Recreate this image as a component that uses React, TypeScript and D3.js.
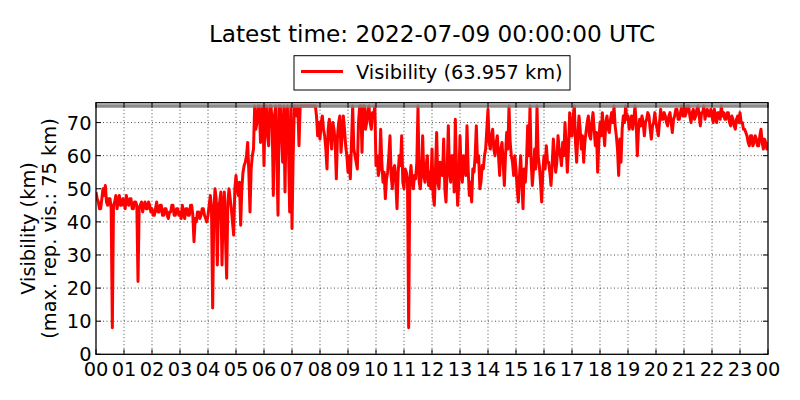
import * as d3 from "d3";

// visibility in km, one value every 2.5 minutes from 00:00 to 24:00 UTC
const visibility: number[] = [
  // 00
  49, 47, 46, 44, 44, 47, 50, 48, 51, 46, 45, 47, 47, 44, 8, 45, 46, 48, 44, 46, 48, 45, 45, 47,
  // 01
  46, 44, 48, 46, 45, 47, 47, 44, 44, 46, 46, 45, 22, 44, 45, 46, 43, 45, 46, 44, 44, 46, 45, 43,
  // 02
  44, 42, 42, 44, 46, 43, 43, 45, 45, 42, 42, 44, 44, 42, 41, 43, 43, 45, 45, 42, 42, 44, 44, 42,
  // 03
  43, 41, 45, 43, 41, 44, 44, 42, 42, 45, 45, 42, 34, 41, 40, 43, 43, 41, 42, 44, 44, 42, 41, 40,
  // 04
  42, 45, 48, 44, 14, 43, 50, 47, 27, 45, 46, 49, 27, 44, 49, 35, 23, 46, 50, 47, 44, 40, 36, 50,
  // 05
  54, 50, 48, 52, 39, 50, 55, 57, 58, 60, 64, 55, 43, 56, 60, 62, 75, 68, 70, 75, 75, 64, 72, 75,
  // 06
  57, 75, 75, 66, 63, 75, 75, 70, 48, 72, 75, 60, 42, 75, 75, 66, 58, 75, 49, 72, 75, 62, 43, 75,
  // 07
  38, 60, 75, 75, 72, 75, 63, 75, 75, 75, 75, 75, 75, 75, 75, 75, 75, 75, 75, 75, 75, 72, 66, 70,
  // 08
  65, 70, 72, 68, 66, 62, 56, 68, 71, 66, 62, 70, 68, 64, 53, 66, 70, 72, 61, 66, 72, 68, 63, 60,
  // 09
  55, 60, 53, 64, 75, 62, 60, 58, 56, 70, 75, 75, 61, 75, 75, 68, 70, 74, 75, 70, 68, 73, 72, 75,
  // 10
  57, 60, 54, 56, 68, 58, 52, 55, 47, 53, 55, 60, 66, 54, 50, 56, 57, 52, 44, 55, 60, 57, 66, 52,
  // 11
  50, 56, 55, 52, 8, 53, 57, 52, 50, 54, 53, 58, 75, 52, 50, 55, 66, 54, 52, 57, 60, 51, 55, 50,
  // 12
  62, 48, 45, 56, 67, 52, 50, 58, 57, 54, 65, 50, 46, 56, 69, 55, 52, 60, 60, 49, 71, 55, 45, 52,
  // 13
  66, 55, 52, 60, 58, 54, 69, 56, 48, 52, 46, 56, 55, 60, 69, 58, 60, 50, 52, 57, 56, 60, 62, 68,
  // 14
  74, 64, 62, 66, 68, 62, 60, 64, 66, 60, 54, 62, 64, 58, 51, 60, 67, 62, 75, 64, 60, 58, 54, 60,
  // 15
  56, 50, 46, 54, 60, 52, 44, 56, 52, 58, 69, 60, 75, 58, 51, 56, 62, 56, 75, 60, 57, 52, 46, 55,
  // 16
  60, 56, 63, 58, 58, 55, 51, 57, 65, 60, 55, 58, 66, 62, 60, 57, 64, 60, 70, 63, 55, 62, 73, 66,
  // 17
  66, 72, 75, 64, 58, 66, 72, 68, 62, 66, 58, 64, 67, 70, 72, 66, 65, 70, 73, 68, 63, 67, 55, 64,
  // 18
  70, 66, 73, 68, 63, 70, 72, 68, 67, 71, 73, 70, 75, 69, 66, 62, 54, 65, 58, 68, 72, 70, 75, 71,
  // 19
  72, 68, 70, 72, 68, 71, 75, 70, 60, 68, 71, 69, 72, 70, 66, 70, 71, 73, 72, 68, 65, 69, 70, 73,
  // 20
  70, 68, 66, 70, 74, 71, 71, 73, 72, 70, 69, 72, 73, 70, 67, 71, 72, 74, 74, 71, 71, 73, 75, 72,
  // 21
  75, 72, 73, 75, 75, 72, 70, 73, 74, 71, 72, 74, 75, 72, 69, 73, 73, 75, 71, 73, 74, 72, 72, 74,
  // 22
  72, 70, 74, 72, 70, 73, 73, 71, 75, 72, 73, 71, 71, 73, 73, 70, 69, 72, 71, 69, 68, 71, 72, 70,
  // 23
  73, 70, 70, 68, 68, 67, 66, 64, 63, 66, 66, 63, 64, 66, 65, 63, 63, 66, 68, 64, 62, 65, 64, 62,
  63.957,
];

const stepMinutes = 2.5;
const maxRepVis = 75;
const yTicks = [0, 10, 20, 30, 40, 50, 60, 70];
const hourTicks = d3.range(0, 25);
const hourLabels = hourTicks.map((h) => String(h % 24).padStart(2, "0"));
const title = "Latest time: 2022-07-09 00:00:00 UTC";
const legendLabel = "Visibility (63.957 km)";

const W = 800;
const H = 400;
const left = 96;
const right = 768;
const top = 102.7;
const bottom = 354.3;
const font = "DejaVu Sans, Verdana, sans-serif";
const tickFs = 19.4;

export default function App() {
  const x = d3.scaleLinear().domain([0, 24]).range([left, right]);
  const y = d3.scaleLinear().domain([0, 76]).range([bottom, top]);

  const points: Array<[number, number]> = visibility.map((v, i) => [(i * stepMinutes) / 60, v]);
  const line = d3
    .line<[number, number]>()
    .x((d) => x(d[0]))
    .y((d) => y(d[1]));

  const tickLen = 5;

  return (
    <svg
      width={W}
      height={H}
      style={{ position: "fixed", left: 0, top: 0, background: "#fff" }}
      fontFamily={font}
    >
      <rect x={0} y={0} width={W} height={H} fill="#fff" />
      <defs>
        <clipPath id="plot-clip">
          <rect x={left} y={top} width={right - left} height={bottom - top} />
        </clipPath>
      </defs>

      {/* grid */}
      <g stroke="#000" strokeWidth={0.7} strokeDasharray="1,2.5">
        {yTicks.slice(1).map((t) => (
          <line key={`gy-${t}`} x1={left} x2={right} y1={y(t)} y2={y(t)} />
        ))}
        {hourTicks.slice(1, -1).map((h) => (
          <line key={`gx-${h}`} x1={x(h)} x2={x(h)} y1={top} y2={bottom} />
        ))}
      </g>

      <g clipPath="url(#plot-clip)">
        <path d={line(points) ?? ""} fill="none" stroke="#ff0000" strokeWidth={3} strokeLinejoin="round" />
        <line
          x1={left}
          x2={right}
          y1={y(maxRepVis)}
          y2={y(maxRepVis)}
          stroke="#808080"
          strokeOpacity={0.9}
          strokeWidth={3.6}
        />
      </g>

      {/* ticks, inward on all sides */}
      <g stroke="#000" strokeWidth={1}>
        {yTicks.map((t) => (
          <g key={`ty-${t}`}>
            <line x1={left} x2={left + tickLen} y1={y(t)} y2={y(t)} />
            <line x1={right} x2={right - tickLen} y1={y(t)} y2={y(t)} />
          </g>
        ))}
        {hourTicks.map((h) => (
          <g key={`tx-${h}`}>
            <line x1={x(h)} x2={x(h)} y1={bottom} y2={bottom - tickLen} />
            <line x1={x(h)} x2={x(h)} y1={top} y2={top + tickLen} />
          </g>
        ))}
      </g>

      <rect x={left} y={top} width={right - left} height={bottom - top} fill="none" stroke="#000" strokeWidth={1.3} />

      {/* tick labels */}
      <g fontSize={tickFs} fill="#000">
        {yTicks.map((t) => (
          <text key={`ly-${t}`} x={left - 4.5} y={y(t) + 7} textAnchor="end">
            {t}
          </text>
        ))}
        {hourTicks.map((h, i) => (
          <text key={`lx-${h}`} x={x(h)} y={375.5} textAnchor="middle">
            {hourLabels[i]}
          </text>
        ))}
      </g>

      {/* y axis label */}
      <g fontSize={tickFs} fill="#000" textAnchor="middle">
        <text transform={`translate(35,${(top + bottom) / 2}) rotate(-90)`}>Visibility (km)</text>
        <text transform={`translate(55.5,${(top + bottom) / 2}) rotate(-90)`}>(max. rep. vis.: 75 km)</text>
      </g>

      {/* title */}
      <text x={(left + right) / 2} y={41.7} fontSize={23.2} textAnchor="middle" fill="#000">
        {title}
      </text>

      {/* legend */}
      <rect x={294} y={55.7} width={276} height={34.3} fill="#fff" stroke="#000" strokeWidth={1} />
      <line x1={301} x2={343} y1={71.5} y2={71.5} stroke="#ff0000" strokeWidth={2.8} />
      <text x={356} y={78.5} fontSize={tickFs} fill="#000">
        {legendLabel}
      </text>
    </svg>
  );
}
